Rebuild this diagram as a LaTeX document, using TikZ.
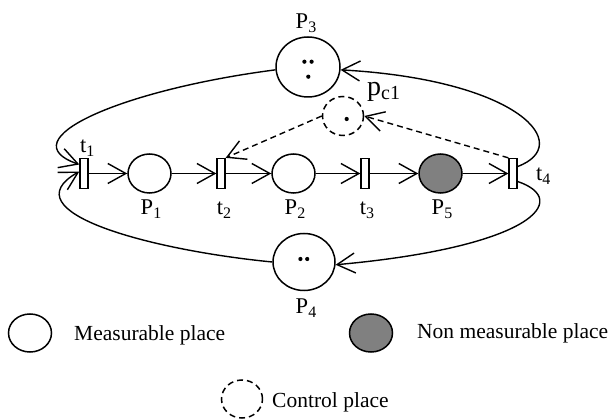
\documentclass[tikz,border=0pt]{standalone}
\usepackage{fontspec}
\setmainfont{Liberation Serif}
\usetikzlibrary{arrows.meta,shapes.geometric}
\definecolor{nmgray}{RGB}{128,128,128}
\newcommand{\sbx}[1]{\raisebox{-4pt}{\fontsize{16}{17}\selectfont #1}}
\begin{document}
\begin{tikzpicture}[x=1pt,y=-1pt,
  place/.style={draw,ellipse,line width=1.5pt,inner sep=0pt,minimum width=43pt,minimum height=39pt},
  trans/.style={draw,rectangle,line width=1.3pt,fill=white,inner sep=0pt,minimum width=8pt,minimum height=30pt},
  arc/.style={line width=1.4pt,-{Straight Barb[length=18pt,width=20pt]}},
  ctrl/.style={dash pattern=on 6pt off 4pt},
  lab/.style={inner sep=0pt,font=\fontsize{22.5}{26}\selectfont},
  leg/.style={inner sep=0pt,font=\fontsize{21.5}{25}\selectfont},
  token/.style={fill=black}]
\useasboundingbox (0,0) rectangle (610,419);

% places and transitions
\node[trans] (t1) at (84,173.5) {};
\node[place] (P1) at (149.5,173.5) {};
\node[trans] (t2) at (221,173.5) {};
\node[place] (P2) at (293.5,173.5) {};
\node[trans] (t3) at (365,173.5) {};
\node[place,fill=nmgray] (P5) at (440.5,173.5) {};
\node[trans] (t4) at (513,173.5) {};
\node[place,minimum width=64pt,minimum height=60pt] (P3) at (308,67) {};
\node[place,minimum width=62pt,minimum height=57pt] (P4) at (304,262) {};
\node[place,ctrl,minimum width=41pt,minimum height=39pt] (pc1) at (343,116) {};

% tokens
\fill[token] ([shift={(-3.6,-5.3)}]P3.center) circle (2.1pt);
\fill[token] ([shift={(3.6,-5.3)}]P3.center) circle (2.1pt);
\fill[token] ([shift={(0.3,9.7)}]P3.center) circle (2.1pt);
\fill[token] ([shift={(-3.6,-3)}]P4.center) circle (2.1pt);
\fill[token] ([shift={(3.2,-3)}]P4.center) circle (2.1pt);
\fill[token] ([shift={(3.7,3)}]pc1.center) circle (2.1pt);

% main row arcs
\draw[arc] (t1.east) -- (P1.west);
\draw[arc] (P1.east) -- (t2.west);
\draw[arc] (t2.east) -- (P2.west);
\draw[arc] (P2.east) -- (t3.west);
\draw[arc] (t3.east) -- (P5.west);
\draw[arc] (P5.east) -- (t4.west);

% loops
\draw[arc] (P3.185) .. controls (120,90) and (8,140) .. ([yshift=9pt]t1.west);
\draw[arc] (P4.west) .. controls (150,250) and (8,212) .. ([yshift=2pt]t1.west);
\draw[arc] ([yshift=7pt]t4.east) .. controls (575,145) and (520,80) .. (P3.-5);
\draw[arc] ([yshift=-8pt]t4.east) .. controls (572,200) and (532,247) .. (P4.-5);

% control arcs
\draw[arc,ctrl] (t4.north west) -- (pc1.east);
\draw[arc,ctrl] (pc1.west) -- (t2.north east);

% labels
\node[lab,anchor=base] (lP3) at (306,28.5) {P\sbx{3}};
\node[lab,anchor=base west] (lt1) at (80,153) {t\sbx{1}};
\node[lab,anchor=base] (lP1) at (151,215) {P\sbx{1}};
\node[lab,anchor=base] (lt2) at (224,215) {t\sbx{2}};
\node[lab,anchor=base] (lP2) at (295,215) {P\sbx{2}};
\node[lab,anchor=base] (lt3) at (367,215) {t\sbx{3}};
\node[lab,anchor=base] (lP5) at (442,215) {P\sbx{5}};
\node[lab,anchor=base west] (lt4) at (536,181) {t\sbx{4}};
\node[lab,anchor=base] (lP4) at (306,313.5) {P\sbx{4}};
\node[inner sep=0pt,anchor=base west] (lpc1) at (367,96) {{\fontsize{28}{30}\selectfont p}\raisebox{-4pt}{\fontsize{20}{21}\selectfont c1}};

% legend
\node[place,minimum height=38pt] (lm) at (30,333) {};
\node[leg,anchor=base west] (lmt) at (74,340.7) {Measurable place};
\node[place,fill=nmgray,minimum height=38pt] (ln) at (371,333) {};
\node[leg,anchor=base west] (lnt) at (417,338.5) {Non measurable place};
\node[place,ctrl,minimum width=41pt,minimum height=38pt] (lc) at (242,399) {};
\node[leg,anchor=base west] (lct) at (272,407) {Control place};
\end{tikzpicture}
\end{document}
